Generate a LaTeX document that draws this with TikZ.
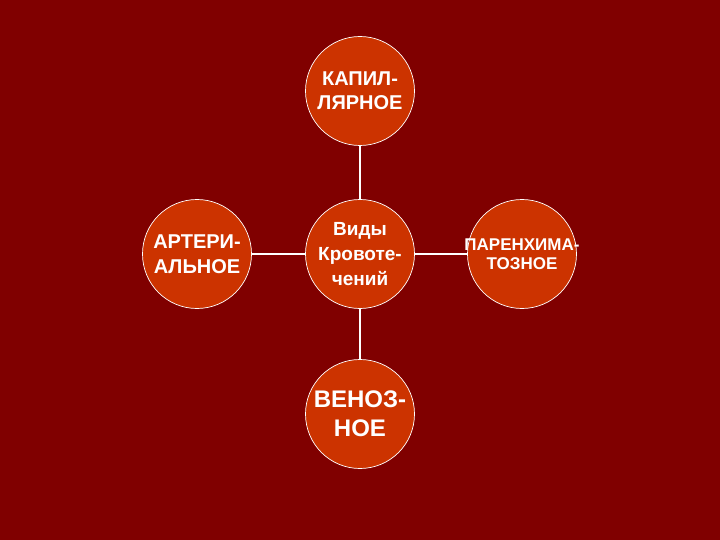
\documentclass[tikz,border=0pt]{standalone}
\usepackage{fontspec}
\setmainfont{Liberation Sans}
\definecolor{bgred}{HTML}{800000}
\definecolor{discfill}{HTML}{CC3300}
\begin{document}
\begin{tikzpicture}[x=1pt,y=-1pt,
  disc/.style={circle,minimum size=109pt,inner sep=0pt,fill=discfill,draw=white,line width=0.7pt},
  lbl/.style={text=white,align=center,inner sep=0pt},
  link/.style={draw=white,line width=1.5pt}]
\useasboundingbox (0,0) rectangle (720,540);
\fill[bgred] (0,0) rectangle (720,540);
\node[disc] (c) at (360,254) {};
\node[disc] (t) at (360,91) {};
\node[disc] (b) at (360,414) {};
\node[disc] (l) at (197,254) {};
\node[disc] (r) at (522,254) {};
\node[lbl,font=\bfseries\fontsize{19}{25}\selectfont] (ct) at (c.center) {Виды\\Кровоте-\\чений};
\node[lbl,font=\bfseries\fontsize{20}{24}\selectfont] (tt) at (t.center) {КАПИЛ-\\ЛЯРНОЕ};
\node[lbl,font=\bfseries\fontsize{24}{29}\selectfont] (bt) at (b.center) {ВЕНОЗ-\\НОЕ};
\node[lbl,font=\bfseries\fontsize{20}{25}\selectfont] (lt) at (l.center) {АРТЕРИ-\\АЛЬНОЕ};
\node[lbl,font=\bfseries\fontsize{17}{19}\selectfont] (rt) at (r.center) {ПАРЕНХИМА-\\ТОЗНОЕ};
\draw[link] (c.north) -- (t.south);
\draw[link] (c.south) -- (b.north);
\draw[link] (c.west) -- (l.east);
\draw[link] (c.east) -- (r.west);
\end{tikzpicture}
\end{document}
